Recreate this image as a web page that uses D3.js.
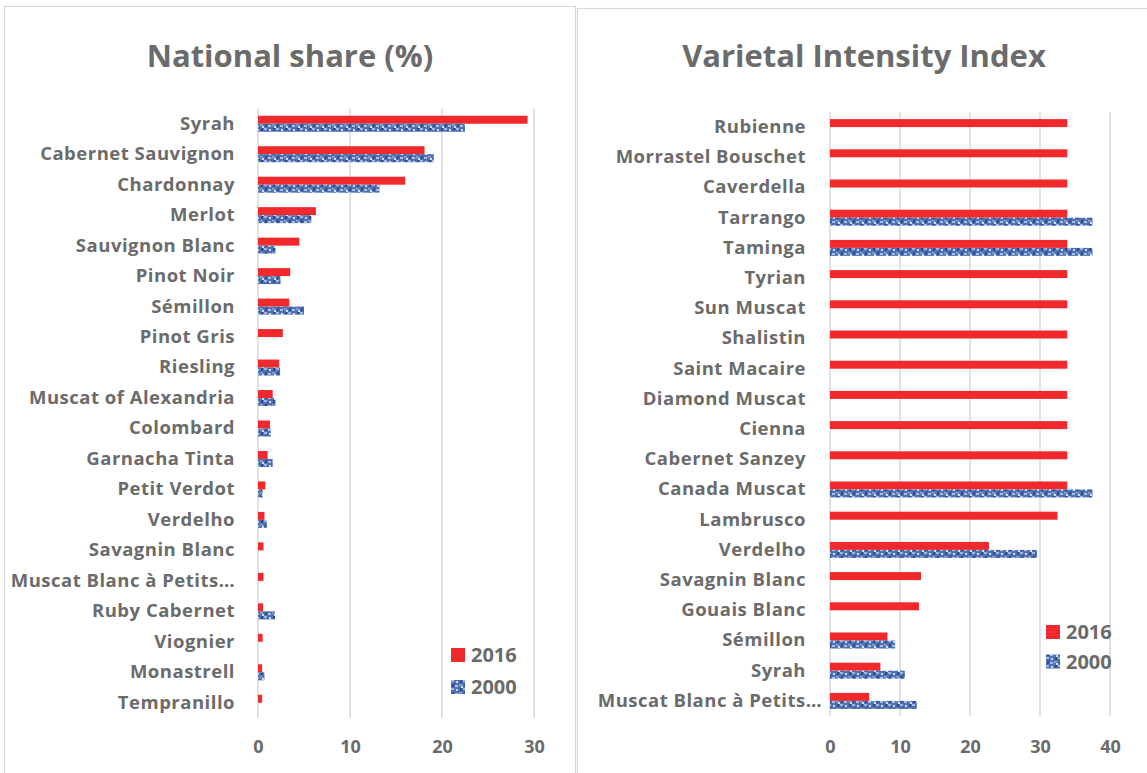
<!DOCTYPE html>
<html>
<head>
<meta charset="utf-8">
<script src="https://cdn.jsdelivr.net/npm/d3@7"></script>
<style>
  html, body { margin: 0; padding: 0; background: #ffffff; }
  svg text { font-family: "Open Sans", Lato, sans-serif; font-weight: 700; fill: #6b6b6b; }
</style>
</head>
<body>
<svg id="chart" width="1147" height="773"></svg>
<script>
// National share of vineyard area (%), top to bottom
const shareVarieties = ["Syrah", "Cabernet Sauvignon", "Chardonnay", "Merlot", "Sauvignon Blanc",
  "Pinot Noir", "Sémillon", "Pinot Gris", "Riesling", "Muscat of Alexandria", "Colombard",
  "Garnacha Tinta", "Petit Verdot", "Verdelho", "Savagnin Blanc", "Muscat Blanc à Petits…",
  "Ruby Cabernet", "Viognier", "Monastrell", "Tempranillo"];
const share2016 = [29.3, 18.1, 16.0, 6.3, 4.5, 3.5, 3.4, 2.7, 2.3, 1.6, 1.3, 1.05, 0.8, 0.7, 0.6, 0.6, 0.55, 0.5, 0.45, 0.45];
const share2000 = [22.5, 19.1, 13.2, 5.8, 1.9, 2.45, 5.0, 0, 2.4, 1.9, 1.4, 1.6, 0.5, 0.95, 0, 0, 1.85, 0, 0.7, 0];
const shareTicks = [0, 10, 20, 30];

// Varietal Intensity Index, top to bottom
const viiVarieties = ["Rubienne", "Morrastel Bouschet", "Caverdella", "Tarrango", "Taminga", "Tyrian",
  "Sun Muscat", "Shalistin", "Saint Macaire", "Diamond Muscat", "Cienna", "Cabernet Sanzey",
  "Canada Muscat", "Lambrusco", "Verdelho", "Savagnin Blanc", "Gouais Blanc", "Sémillon", "Syrah",
  "Muscat Blanc à Petits…"];
const vii2016 = [33.9, 33.9, 33.9, 33.9, 33.9, 33.9, 33.9, 33.9, 33.9, 33.9, 33.9, 33.9, 33.9, 32.5, 22.7, 13.0, 12.7, 8.2, 7.2, 5.6];
const vii2000 = [0, 0, 0, 37.5, 37.5, 0, 0, 0, 0, 0, 0, 0, 37.5, 0, 29.6, 0, 0, 9.3, 10.7, 12.4];
const viiTicks = [0, 10, 20, 30, 40];

const years = ["2016", "2000"];
const red = "#f0292c";

const svg = d3.select("#chart");

// Textured blue fill for the 2000 series
const defs = svg.append("defs");
const pat = defs.append("pattern")
  .attr("id", "blueTex").attr("patternUnits", "userSpaceOnUse")
  .attr("width", 12).attr("height", 8);
pat.append("rect").attr("width", 12).attr("height", 8).attr("fill", "#4f72b5");
[[0,0,3,2,"#9fb6e0"],[5,1,2,2,"#c7d5ee"],[9,0,2,3,"#2f4d8c"],[1,4,2,3,"#2f4d8c"],
 [4,5,3,2,"#a8bde4"],[8,4,3,2,"#7e9ad0"],[10,6,2,2,"#d5e0f3"],[3,2,1,2,"#3a5a9a"]]
  .forEach(([x, y, w, h, c]) => pat.append("rect").attr("x", x).attr("y", y).attr("width", w).attr("height", h).attr("fill", c));

function panel(opt) {
  const g = svg.append("g");
  g.append("rect")
    .attr("x", opt.box[0] + 0.5).attr("y", opt.box[1] + 0.5)
    .attr("width", opt.box[2]).attr("height", opt.box[3])
    .attr("fill", "#ffffff").attr("stroke", "#d9d9d9").attr("stroke-width", 1.2);

  g.append("text").attr("x", opt.titleX).attr("y", 67)
    .attr("text-anchor", "middle").style("font-size", "31px").text(opt.title);

  const x = d3.scaleLinear().domain([0, opt.max]).range(opt.xRange);
  const y = d3.scaleBand().domain(opt.cats).range(opt.yRange).padding(0);

  // Vertical gridlines
  g.append("g").selectAll("line").data(opt.ticks).join("line")
    .attr("x1", d => x(d)).attr("x2", d => x(d))
    .attr("y1", opt.yRange[0]).attr("y2", opt.yRange[1])
    .attr("stroke", "#d9d9d9").attr("stroke-width", 1.5);

  // Bottom tick labels
  const ax = g.append("g").attr("transform", `translate(0,${opt.tickY})`)
    .call(d3.axisBottom(x).tickValues(opt.ticks).tickSize(0).tickPadding(0).tickFormat(d3.format("d")));
  ax.select(".domain").remove();
  ax.selectAll("text").style("font-size", "18px").attr("fill", "#6b6b6b");

  // Category labels
  const yl = g.append("g").attr("transform", `translate(${opt.labelX},0)`)
    .call(d3.axisLeft(y).tickSize(0).tickPadding(0));
  yl.select(".domain").remove();
  yl.selectAll("text").style("font-size", "18.5px").style("letter-spacing", "0.5px")
    .attr("fill", "#6b6b6b")
    .attr("dx", d => (opt.overflow && d === opt.overflow) ? 16 : 0);

  const bh = 8;
  const rows = opt.cats.map((c, i) => ({ c, a: opt.v2016[i], b: opt.v2000[i] }));
  g.append("g").selectAll("rect").data(rows).join("rect")
    .attr("x", x(0)).attr("y", d => y(d.c) + y.bandwidth() / 2 - bh)
    .attr("width", d => x(d.a) - x(0)).attr("height", bh).attr("fill", red);
  g.append("g").selectAll("rect").data(rows.filter(d => d.b > 0)).join("rect")
    .attr("x", x(0)).attr("y", d => y(d.c) + y.bandwidth() / 2)
    .attr("width", d => x(d.b) - x(0)).attr("height", bh).attr("fill", "url(#blueTex)");

  // Legend
  const lg = g.append("g").attr("transform", `translate(${opt.legend[0]},${opt.legend[1]})`);
  years.forEach((yr, i) => {
    lg.append("rect").attr("x", 0).attr("y", i * opt.legendGap).attr("width", 14).attr("height", 14)
      .attr("fill", i === 0 ? red : "url(#blueTex)");
    lg.append("text").attr("x", 20).attr("y", i * opt.legendGap + 7).attr("dy", "0.36em")
      .style("font-size", "20px").text(yr);
  });
}

panel({
  box: [4, 6, 571, 780], title: "National share (%)", titleX: 290,
  cats: shareVarieties, v2016: share2016, v2000: share2000, ticks: shareTicks, max: 30,
  xRange: [258, 534], yRange: [108.5, 718], labelX: 235, tickY: 740,
  legend: [451, 648], legendGap: 32
});

panel({
  box: [577, 8, 580, 780], title: "Varietal Intensity Index", titleX: 864,
  cats: viiVarieties, v2016: vii2016, v2000: vii2000, ticks: viiTicks, max: 40,
  xRange: [830, 1110], yRange: [112, 716], labelX: 806, tickY: 740,
  legend: [1046, 625], legendGap: 29.5, overflow: "Muscat Blanc à Petits…"
});
</script>
</body>
</html>
